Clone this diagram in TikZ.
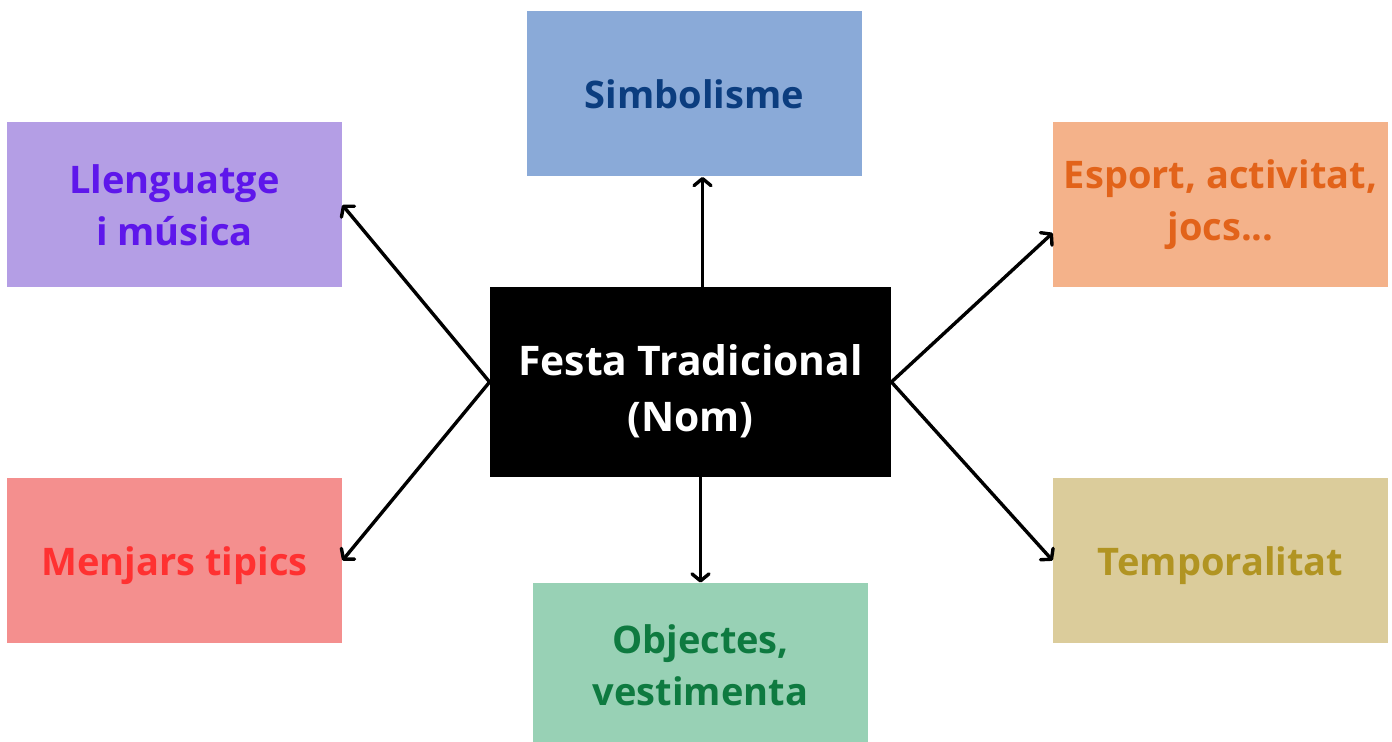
\documentclass[tikz,border=0pt]{standalone}
\usepackage{fontspec}
\setmainfont{Open Sans}
\usepackage{xcolor}
\usepackage{tikz}
\usetikzlibrary{calc}
\usetikzlibrary{arrows.meta}
\definecolor{simbfons}{HTML}{8AAAD8}
\definecolor{simbtext}{HTML}{0B3D7F}
\definecolor{llenfons}{HTML}{B49EE5}
\definecolor{llentext}{HTML}{5E17EB}
\definecolor{espfons}{HTML}{F4B28A}
\definecolor{esptext}{HTML}{E2631A}
\definecolor{menjfons}{HTML}{F48F8E}
\definecolor{menjtext}{HTML}{FF3131}
\definecolor{tempfons}{HTML}{DBCC9B}
\definecolor{temptext}{HTML}{B19422}
\definecolor{objfons}{HTML}{98D1B5}
\definecolor{objtext}{HTML}{0E7A40}
\tikzset{caixa/.style={rectangle, minimum width=167.5pt, minimum height=82.5pt, inner sep=0, align=center, font=\bfseries\fontsize{19}{26}\selectfont}}
\tikzset{fletxa/.style={black, line width=1.7pt, ->, >={Straight Barb[round,length=3.5pt,width=8.5pt]}}}

\begin{document}
\begin{tikzpicture} [x=0.5pt,y=-0.5pt]
\useasboundingbox (0,0) rectangle (1392,742);
\node[rectangle, fill=black, minimum width=200.5pt, minimum height=95pt, inner sep=0] (festa) at (690.5,382) {};
\node[text=white, align=center, font=\bfseries\fontsize{20.4}{28}\selectfont] (festatext) at (690.5,391) {Festa Tradicional\\(Nom)};
\node[caixa, fill=simbfons, text=simbtext] (simb) at (694.5,94) {Simbolisme};
\node[caixa, fill=llenfons, text=llentext] (llen) at (174.5,205) {Llenguatge\\i música};
\node[caixa, fill=espfons, text=esptext] (esp) at (1220.5,205) {Esport, activitat,\\jocs...};
\node[caixa, fill=menjfons, text=menjtext, text depth=0pt, text height=15.5pt] (menj) at (174.5,560.5) {Menjars tipics};
\node[caixa, fill=tempfons, text=temptext, text depth=0pt, text height=15.5pt] (temp) at (1220.5,560.5) {Temporalitat};
\node[caixa, fill=objfons, text=objtext] (obj) at (700.5,665.5) {Objectes,\\vestimenta};
\draw[fletxa] ([xshift=6pt]festa.north) -- ([xshift=6pt]festa.north |- simb.south);
\draw[fletxa] ([xshift=5pt]festa.south) -- ([xshift=5pt]festa.south |- obj.north);
\foreach \a/\b in {festa.west/llen.east, festa.west/menj.east, festa.east/temp.west} {
  \draw[fletxa] (\a) -- (\b);
}
\draw[fletxa] (festa.east) -- ([yshift=-14pt]esp.west);
\end{tikzpicture}
\end{document}
